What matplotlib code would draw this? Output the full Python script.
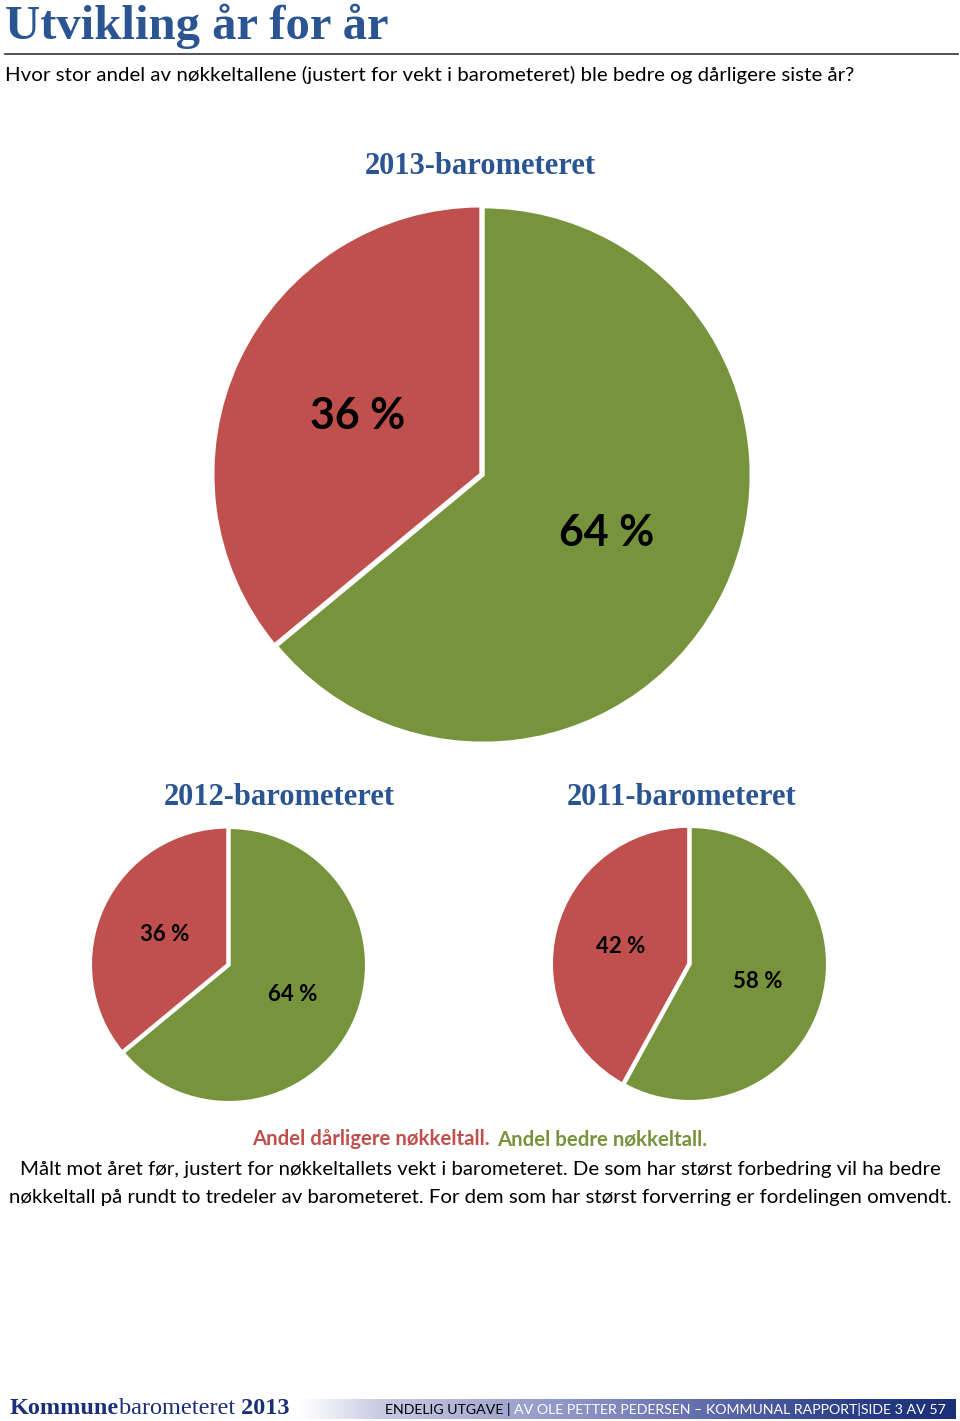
import matplotlib
matplotlib.use("Agg")
import matplotlib.pyplot as plt
import numpy as np
from matplotlib.colors import LinearSegmentedColormap

# ---- data ----
pie_titles = ["2013-barometeret", "2012-barometeret", "2011-barometeret"]
better = [64, 64, 58]   # Andel bedre nøkkeltall (%)
worse = [36, 36, 42]    # Andel dårligere nøkkeltall (%)
legend_labels = ["Andel dårligere nøkkeltall.", "Andel bedre nøkkeltall."]
title = "Utvikling år for år"
subtitle = "Hvor stor andel av nøkkeltallene (justert for vekt i barometeret) ble bedre og dårligere siste år?"
caption = ["Målt mot året før, justert for nøkkeltallets vekt i barometeret. De som har størst forbedring vil ha bedre",
           "nøkkeltall på rundt to tredeler av barometeret. For dem som har størst forverring er fordelingen omvendt."]

GREEN = "#77933C"
RED = "#C0504D"
BLUE = "#2A5592"
NAVY = "#1B2F78"

W, H = 960, 1421
fig = plt.figure(figsize=(W / 100, H / 100), dpi=100)
fig.patch.set_facecolor("white")

SANS = ["Lato", "DejaVu Sans"]
SERIF = ["Liberation Serif", "DejaVu Serif"]

def px(x, y):
    return x / W, 1 - y / H

# title and subtitle
fig.text(*px(5, 26), title, family=SERIF, fontweight="bold", fontsize=35,
         color=BLUE, ha="left", va="center")
fig.add_artist(plt.Line2D([5 / W, 958 / W], [1 - 54 / H] * 2, color="#333333", lw=1.2))
fig.text(*px(5, 75), subtitle, family=SANS, fontsize=14.75, color="black",
         ha="left", va="center")

def draw_pie(cx, cy, r, b, w, fs):
    ax = fig.add_axes([(cx - r) / W, (H - cy - r) / H, 2 * r / W, 2 * r / H])
    ax.pie([b, w], colors=[GREEN, RED], startangle=90, counterclock=False,
           explode=[0, 0.008], radius=1,
           wedgeprops=dict(edgecolor="white", linewidth=2.5),
           autopct=lambda p: f"{p:.0f} %", pctdistance=0.51,
           textprops=dict(family=SANS, fontweight="bold", fontsize=fs, color="black"))
    ax.set_xlim(-0.995, 0.995)
    ax.set_ylim(-0.995, 0.995)
    ax.set_aspect("equal")
    ax.axis("off")

draw_pie(483, 475, 267, better[0], worse[0], 31)
draw_pie(229, 965, 137, better[1], worse[1], 16)
draw_pie(690, 964, 137, better[2], worse[2], 16)

for txt, (tx, ty) in zip(pie_titles, [(480, 167), (279, 797), (682, 797)]):
    fig.text(*px(tx, ty), txt, family=SERIF, fontweight="bold", fontsize=22,
             color=BLUE, ha="center", va="center")

# legend line
fig.text(*px(490, 1139), legend_labels[0], family=SANS, fontweight="bold", fontsize=14.7,
         color=RED, ha="right", va="center")
fig.text(*px(497, 1139), legend_labels[1], family=SANS, fontweight="bold", fontsize=14.7,
         color=GREEN, ha="left", va="center")
for i, line in enumerate(caption):
    fig.text(*px(480, 1169 + 29 * i), line, family=SANS, fontsize=14.7, color="black",
             ha="center", va="center")

# footer gradient band
fax = fig.add_axes([300 / W, 1 - 1419 / H, 656 / W, 20 / H])
cmap = LinearSegmentedColormap.from_list(
    "band", [(0, "#ffffff"), (0.12, "#c9cbe3"), (0.5, "#7c84bd"), (0.85, "#2b3d88"), (1, NAVY)])
fax.imshow(np.linspace(0, 1, 256)[None, :], aspect="auto", cmap=cmap, extent=[0, 1, 0, 1])
fax.axis("off")

ax_footer = fig.add_axes([0, 0, 1, 1], facecolor="none")
ax_footer.axis("off")
t1 = fig.text(*px(10, 1409), "Kommune", family=SERIF, fontweight="heavy", fontsize=17.5,
              color=NAVY, ha="left", va="center")
a2 = ax_footer.annotate("barometeret", xy=(1, 0), xycoords=t1, family=SERIF,
                        fontsize=17.5, color=NAVY, ha="left", va="bottom")
a3 = ax_footer.annotate(" 2013", xy=(1, 0), xycoords=a2, family=SERIF, fontweight="bold",
                        fontsize=17.5, color=NAVY, ha="left", va="bottom")

f1 = fig.text(*px(385, 1409), "ENDELIG UTGAVE | ", family=SANS,
              fontsize=10.2, color="black", ha="left", va="center")
f2 = ax_footer.annotate("AV OLE PETTER PEDERSEN – KOMMUNAL RAPPORT|SIDE 3 AV 57", xy=(1, 0.5),
                        xycoords=f1, family=SANS,
                        fontsize=10.2, color="white", ha="left", va="center")

fig.savefig("out.png", dpi=100, facecolor="white")
